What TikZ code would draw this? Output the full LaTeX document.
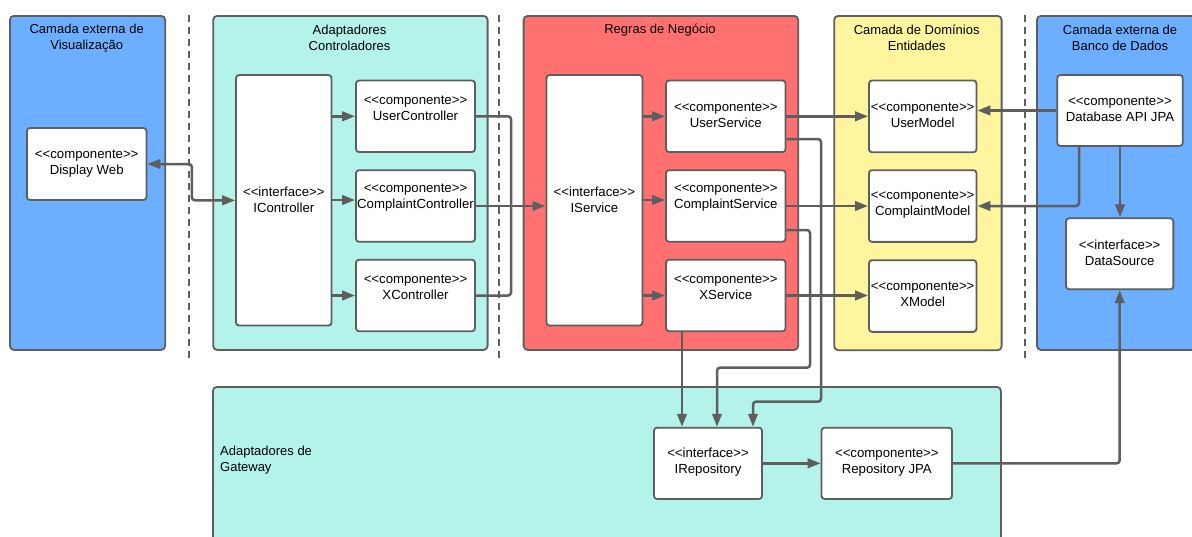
\documentclass[tikz,border=0pt]{standalone}
\usepackage{fontspec}
\setmainfont{Liberation Sans}[Ligatures=TeXOff]
\usetikzlibrary{arrows.meta,calc}
\definecolor{edge}{HTML}{5E5E5E}
\definecolor{extblue}{HTML}{6CAEFF}
\definecolor{adapt}{HTML}{B4F3EA}
\definecolor{rules}{HTML}{FF7070}
\definecolor{domain}{HTML}{FFF59F}
\newcommand\stereo[1]{<{}<#1>{}>}
\begin{document}
\begin{tikzpicture}[x=1pt,y=-1pt,
  panel/.style={draw=edge, line width=1.8pt, rounded corners=4pt, inner sep=0pt, anchor=north west},
  box/.style={draw=edge, fill=white, line width=1.8pt, rounded corners=3pt, inner sep=0pt},
  lbl/.style={align=center, font=\fontsize{13.2}{16}\selectfont, inner sep=0pt},
  title/.style={align=center, font=\fontsize{13}{16}\selectfont, inner sep=0pt},
  wire/.style={draw=edge, line width=2.5pt, rounded corners=3pt},
  link/.style={wire, -{Triangle[length=13pt,width=9.5pt]}},
  dlink/.style={wire, {Triangle[length=13pt,width=9.5pt]}-{Triangle[length=13pt,width=9.5pt]}},
  divider/.style={draw=edge, line width=1.4pt, dash pattern=on 7pt off 5pt}]
\useasboundingbox (0,0) rectangle (1192,536);
\clip (0,0) rectangle (1192,536);

% layer panels
\node[panel, fill=extblue, minimum width=155.3, minimum height=334] (pview) at (9,15) {};
\node[panel, fill=adapt, minimum width=274.4, minimum height=334] (pctl) at (212.3,15) {};
\node[panel, fill=rules, minimum width=274.6, minimum height=334] (prule) at (522.7,15) {};
\node[panel, fill=domain, minimum width=167.4, minimum height=334.3] (pdom) at (833.3,15) {};
\node[panel, fill=extblue, minimum width=180, minimum height=334] (pdb) at (1036,15) {};
\node[panel, fill=adapt, minimum width=788, minimum height=170] (pgw) at (212,386) {};

% dashed separators
\draw[divider] (189,15) -- (189,361);
\draw[divider] (499,15) -- (499,361);
\draw[divider] (1025,15) -- (1025,361);

% panel titles
\node[title] (tview) at (86.7,38) {Camada externa de\\Visualização};
\node[title] (tctl) at (349.5,38) {Adaptadores\\Controladores};
\node[title] (trule) at (660,30) {Regras de Negócio};
\node[title] (tdom) at (916.7,38) {Camada de Domínios\\Entidades};
\node[title] (tdb) at (1120,38) {Camada externa de\\Banco de Dados};
\node[title, align=left, anchor=west] (tgw) at (220,460.5) {Adaptadores de\\Gateway};

% component boxes
\node[box, minimum width=119.5, minimum height=72] (disp) at (86.7,164) {};
\node[box, minimum width=95.5, minimum height=250.5] (ictl) at (283.8,200.3) {};
\node[box, minimum width=119, minimum height=71.5] (uctl) at (415.5,116.3) {};
\node[box, minimum width=119, minimum height=71.5] (cctl) at (415.5,206) {};
\node[box, minimum width=119, minimum height=71.5] (xctl) at (415.5,295.5) {};
\node[box, minimum width=96, minimum height=250.5] (isvc) at (594.4,200.3) {};
\node[box, minimum width=119.5, minimum height=71.5] (usvc) at (725.8,116.3) {};
\node[box, minimum width=119.5, minimum height=71.5] (csvc) at (725.8,206) {};
\node[box, minimum width=119.5, minimum height=71.5] (xsvc) at (725.8,295.5) {};
\node[box, minimum width=107.5, minimum height=71.8] (umod) at (922.7,116.4) {};
\node[box, minimum width=107.5, minimum height=71.7] (cmod) at (922.7,206) {};
\node[box, minimum width=107.5, minimum height=71.7] (xmod) at (922.7,296) {};
\node[box, minimum width=125.4, minimum height=71] (dbapi) at (1120,110.5) {};
\node[box, minimum width=107.3, minimum height=71] (dsrc) at (1119.7,253.8) {};
\node[box, minimum width=108, minimum height=71.3] (irepo) at (708,463.3) {};
\node[box, minimum width=130.5, minimum height=71.3] (rjpa) at (886.8,463.3) {};

% component texts
\node[lbl] (ldisp) at (86.7,164) {\stereo{componente}\\Display Web};
\node[lbl] (lictl) at (283.8,199.5) {\stereo{interface}\\IController};
\node[lbl] (luctl) at (415.5,108.2) {\stereo{componente}\\UserController};
\node[lbl] (lcctl) at (415.5,197.3) {\stereo{componente}\\ComplaintController};
\node[lbl] (lxctl) at (415.5,287.3) {\stereo{componente}\\XController};
\node[lbl] (lisvc) at (594.4,199.3) {\stereo{interface}\\IService};
\node[lbl] (lusvc) at (725.8,115.5) {\stereo{componente}\\UserService};
\node[lbl] (lcsvc) at (725.8,198) {\stereo{componente}\\ComplaintService};
\node[lbl] (lxsvc) at (725.8,287.3) {\stereo{componente}\\XService};
\node[lbl] (lumod) at (922.7,115.7) {\stereo{componente}\\UserModel};
\node[lbl] (lcmod) at (922.7,205) {\stereo{componente}\\ComplaintModel};
\node[lbl] (lxmod) at (922.7,294.7) {\stereo{componente}\\XModel};
\node[lbl] (ldbapi) at (1120,109) {\stereo{componente}\\Database API JPA};
\node[lbl] (ldsrc) at (1119.7,253) {\stereo{interface}\\DataSource};
\node[lbl] (lirepo) at (708,462.3) {\stereo{interface}\\IRepository};
\node[lbl] (lrjpa) at (886.8,462.3) {\stereo{componente}\\Repository JPA};

% view <-> controller interface
\draw[dlink] (disp.east) -- ++(44.5,0) |- (ictl.west);

% controller interface -> controllers
\draw[link] (ictl.east |- uctl.west) -- (uctl.west);
\draw[link] (ictl.east |- 0,200) -- (cctl.west |- 0,200);
\draw[link] (ictl.east |- xctl.west) -- (xctl.west);

% controllers -> service interface
\coordinate (cbus) at (511,206);
\draw[wire] (uctl.east) -| (cbus) |- (xctl.east);
\draw[link] (cctl.east) -- (isvc.west |- cctl.east);

% service interface -> services
\draw[link] (isvc.east |- usvc.west) -- (usvc.west);
\draw[link] (isvc.east |- 0,200) -- (csvc.west |- 0,200);
\draw[link] (isvc.east |- xsvc.west) -- (xsvc.west);

% services -> models
\draw[link] (usvc.east) -- (umod.west |- usvc.east);
\draw[link] (csvc.east) -- (cmod.west |- csvc.east);
\draw[link] (xsvc.east) -- (xmod.west |- xsvc.east);

% database API -> models and data source
\draw[link] (dbapi.west) -- (umod.east |- dbapi.west);
\draw[link] (dbapi.south -| 1079,0) |- (cmod.east);
\draw[link] (dbapi.south) -- (dbapi.south |- dsrc.north);

% services -> repository interface
\draw[link] (xsvc.south -| 682,0) -- (irepo.north -| 682,0);
\draw[link] (csvc.east |- 0,230) -| (810,367.7) -| (irepo.north -| 717,0);
\draw[link] (usvc.east |- 0,139) -| (821,401.7) -| (irepo.north -| 753,0);

% repository chain
\draw[link] (irepo.east) -- (rjpa.west);
\draw[link] (rjpa.east) -| (dsrc.south);
\end{tikzpicture}
\end{document}
